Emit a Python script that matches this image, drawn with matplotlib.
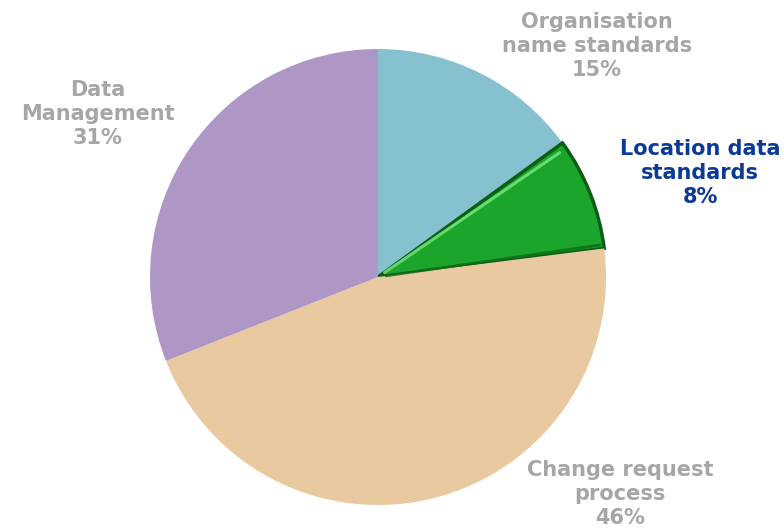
import numpy as np
import matplotlib.pyplot as plt

categories = ["Organisation\nname standards", "Location data\nstandards",
              "Change request\nprocess", "Data\nManagement"]
shares = [15, 8, 46, 31]
colors = ["#86C1D0", "#1BA52A", "#E8C9A0", "#AF97C5"]
label_colors = ["#A6A6A6", "#0A3A96", "#A6A6A6", "#A6A6A6"]
explode = [0, 4, 0, 0]

W, H = 784, 531
fig = plt.figure(figsize=(W / 100, H / 100), dpi=100)
ax = fig.add_axes([0, 0, 1, 1])

cx, cy, r = 378, H - 277, 228
wedges, _ = ax.pie(shares, colors=colors, startangle=90, counterclock=False,
                   center=(cx, cy), radius=r, explode=[e / r for e in explode],
                   wedgeprops=dict(linewidth=0), frame=True)

# bevelled look on the highlighted slice: dark rim plus a light streak
w = wedges[1]
w.set_edgecolor("#0B5E14")
w.set_linewidth(2.5)
wx, wy = w.center
t2 = np.deg2rad(w.theta2 - 1.6)
ax.plot([wx + 8 * np.cos(t2), wx + (w.r - 8) * np.cos(t2)],
        [wy + 8 * np.sin(t2), wy + (w.r - 8) * np.sin(t2)],
        color="#6EE27A", lw=2.2, solid_capstyle="round", alpha=0.9)
t1 = np.deg2rad(w.theta1 + 1.0)
ax.plot([wx + 8 * np.cos(t1), wx + (w.r - 4) * np.cos(t1)],
        [wy + 8 * np.sin(t1), wy + (w.r - 4) * np.sin(t1)],
        color="#0E6A18", lw=2.0, solid_capstyle="round", alpha=0.8)

label_pos = [(597, 46), (700, 173), (620, 494), (98, 114)]
for text, pct, col, (lx, ly) in zip(categories, shares, label_colors, label_pos):
    ax.text(lx, H - ly, f"{text}\n{pct}%", ha="center", va="center",
            color=col, fontsize=15, fontweight="bold", family="DejaVu Sans",
            linespacing=1.28)

ax.set_xlim(0, W)
ax.set_ylim(0, H)
ax.set_aspect("equal")
ax.axis("off")
fig.savefig("out.png", dpi=100)
